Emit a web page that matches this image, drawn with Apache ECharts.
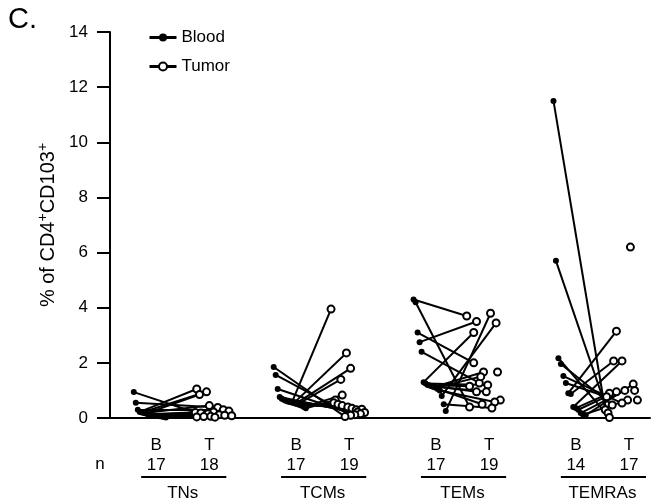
<!DOCTYPE html>
<html>
<head>
<meta charset="utf-8">
<script src="https://cdn.jsdelivr.net/npm/echarts@6/dist/echarts.min.js"></script>
<style>
  html, body { margin: 0; padding: 0; background: #fff; }
  #chart { width: 655px; height: 502px; }
</style>
</head>
<body>
<div id="chart"></div>
<script>
// subsets
const groups = ['TNs', 'TCMs', 'TEMs', 'TEMRAs']
const sides = ['B', 'T']

// % of CD4+CD103+ per donor, blood (sorted high -> low) and tumor
const tnBlood = [0.94, 0.55, 0.3, 0.22, 0.2, 0.18, 0.16, 0.14, 0.12, 0.1, 0.09, 0.08, 0.07, 0.06, 0.05, 0.04, 0.02]
const tnTumor = [1.05, 0.95, 0.85, 0.45, 0.38, 0.3, 0.25, 0.22, 0.2, 0.18, 0.15, 0.12, 0.1, 0.08, 0.06, 0.05, 0.04, 0.03]
const tnJitter = [-0.09, -0.02, -0.07, 0, 0.06, 0.1, 0.14, 0.03, -0.1, -0.06, -0.01, 0.07, 0.11, 0.16, 0.01, -0.04, -0.09, 0.04]
const tnPairs = [8, 4, 5, 0, 1, 3, 2, 6, 7, 9, 10, 11, 12, 13, 14, 15, 16]

const tcmBlood = [1.85, 1.56, 1.05, 0.76, 0.7, 0.66, 0.63, 0.6, 0.58, 0.56, 0.54, 0.52, 0.5, 0.47, 0.44, 0.4, 0.35]
const tcmTumor = [3.95, 2.36, 1.8, 1.4, 0.83, 0.65, 0.55, 0.5, 0.45, 0.4, 0.35, 0.3, 0.32, 0.22, 0.2, 0.15, 0.12, 0.1, 0.05]
const tcmJitter = [-0.13, -0.02, 0.01, -0.06, -0.05, -0.1, -0.11, -0.08, -0.05, -0.01, 0.02, 0.05, 0.09, 0.06, 0.11, 0.08, 0.04, 0.01, -0.03]
const tcmPairs = [18, 17, 16, 15, 14, 13, 11, 12, 10, 0, 1, 2, 3, 9, 8, 4, 5]

const temBlood = [4.3, 4.2, 3.1, 2.75, 2.4, 1.3, 1.25, 1.2, 1.18, 1.15, 1.12, 1.1, 1.05, 1.0, 0.8, 0.5, 0.25]
const temTumor = [3.8, 3.7, 3.5, 3.45, 3.1, 2.0, 1.67, 1.67, 1.27, 1.2, 1.15, 0.95, 0.95, 0.65, 0.58, 0.4, 0.36, 0.5, 1.5]
const temJitter = [0.01, -0.16, -0.09, 0.05, -0.11, -0.11, -0.04, 0.06, -0.07, -0.01, -0.14, -0.09, -0.02, 0.08, 0.04, -0.14, 0.02, -0.05, -0.06]
const temPairs = [1, 15, 5, 2, 8, 4, 9, 10, 11, 12, 6, 18, 17, 14, 3, 16, 0]

const temraBlood = [11.5, 5.7, 2.17, 1.96, 1.52, 1.27, 0.9, 0.87, 0.4, 0.36, 0.3, 0.18, 0.12, 0.1]
const temraTumor = [6.2, 3.15, 2.07, 2.07, 1.23, 1.0, 1.0, 0.95, 0.9, 0.77, 0.65, 0.65, 0.54, 0.47, 0.3, 0.18, 0.02]
const temraJitter = [0.01, -0.09, -0.11, -0.05, 0.03, 0.04, -0.03, -0.09, -0.14, -0.16, 0.06, -0.01, -0.05, -0.12, -0.17, -0.15, -0.14]
const temraPairs = [14, 15, 16, 13, 12, 9, 1, 2, 3, 8, 7, 6, 11, 4]

const bloodSets = [tnBlood, tcmBlood, temBlood, temraBlood]
const tumorSets = [tnTumor, tcmTumor, temTumor, temraTumor]
const jitterSets = [tnJitter, tcmJitter, temJitter, temraJitter]
const pairSets = [tnPairs, tcmPairs, temPairs, temraPairs]

// x in group units: B column at g + 0.33, T column at g + 0.71
const bPos = g => g + 0.33
const tPos = g => g + 0.71

const bloodPts = [], tumorPts = [], links = []
groups.forEach((name, g) => {
  const blood = bloodSets[g], tumor = tumorSets[g]
  const bxs = blood.map((v, i) => bPos(g) - 0.16 + 0.23 * i / (blood.length - 1))
  const txs = tumor.map((v, i) => tPos(g) + jitterSets[g][i])
  blood.forEach((v, i) => bloodPts.push([bxs[i], v]))
  tumor.forEach((v, i) => tumorPts.push([txs[i], v]))
  pairSets[g].forEach((t, i) => {
    links.push({ coords: [[bxs[i], blood[i]], [txs[t], tumor[t]]] })
  })
})

const font = 'Liberation Sans, Arial, Helvetica, sans-serif'
let myChart = echarts.init(document.getElementById('chart'))

myChart.setOption({
  animation: false,
  textStyle: { fontFamily: font },
  grid: { left: 110, right: 5, top: 32, bottom: 84 },
  legend: {
    orient: 'vertical',
    left: 143,
    top: 24,
    itemWidth: 27,
    itemHeight: 10,
    itemGap: 12,
    data: ['Blood', 'Tumor'],
    textStyle: { fontSize: 17, color: '#000', fontFamily: font },
    lineStyle: { width: 3, color: '#000', opacity: 1 }
  },
  xAxis: {
    type: 'value',
    min: 0,
    max: 3.86,
    axisLine: { show: true, lineStyle: { color: '#000', width: 2 } },
    axisTick: { show: false },
    axisLabel: { show: false },
    splitLine: { show: false }
  },
  yAxis: {
    type: 'value',
    min: 0,
    max: 14,
    interval: 2,
    name: '% of CD4{sup|+}CD103{sup|+}',
    nameLocation: 'middle',
    nameGap: 45,
    nameTextStyle: {
      fontSize: 20, color: '#000', fontFamily: font,
      rich: { sup: { fontSize: 14, verticalAlign: 'bottom', padding: [0, 0, 11, 0], fontFamily: font } }
    },
    axisLine: { show: true, lineStyle: { color: '#000', width: 2 } },
    axisTick: { show: true, length: 13, lineStyle: { color: '#000', width: 2 } },
    axisLabel: { fontSize: 17, color: '#000', margin: 22, fontFamily: font },
    splitLine: { show: false }
  },
  series: [
    {
      type: 'lines',
      coordinateSystem: 'cartesian2d',
      z: 2,
      silent: true,
      lineStyle: { color: '#000', width: 2, opacity: 1 },
      data: links
    },
    {
      name: 'Blood',
      type: 'line',
      z: 3,
      symbol: 'circle',
      symbolSize: 6,
      itemStyle: { color: '#000' },
      lineStyle: { color: '#000', opacity: 0 },
      data: bloodPts
    },
    {
      name: 'Tumor',
      type: 'line',
      z: 4,
      symbol: 'emptyCircle',
      symbolSize: 7,
      itemStyle: { color: '#000', borderWidth: 2 },
      lineStyle: { color: '#000', opacity: 0 },
      data: tumorPts
    }
  ]
})

// labels under the axis, placed through the x scale
const px = x => myChart.convertToPixel({ xAxisIndex: 0 }, x)
const txt = (text, x, y) => ({
  type: 'text', x: x, y: y,
  style: { text: text, fontSize: 17, fontFamily: font, fill: '#000', align: 'center', verticalAlign: 'middle' }
})
const graphic = [
  { type: 'text', left: 8, top: 5, style: { text: 'C.', fontSize: 29, fontFamily: font, fill: '#000' } },
  txt('n', 100, 464)
]
groups.forEach((name, g) => {
  const xb = px(bPos(g)), xt = px(tPos(g))
  graphic.push(txt(sides[0], xb, 445))
  graphic.push(txt(sides[1], xt, 445))
  graphic.push(txt(String(bloodSets[g].length), xb, 465))
  graphic.push(txt(String(tumorSets[g].length), xt, 465))
  graphic.push({
    type: 'line',
    shape: { x1: xb - 15, y1: 477, x2: xt + 17, y2: 477 },
    style: { stroke: '#000', lineWidth: 2 }
  })
  graphic.push(txt(name, (xb + xt) / 2, 493))
})
myChart.setOption({ graphic: graphic })
</script>
</body>
</html>
